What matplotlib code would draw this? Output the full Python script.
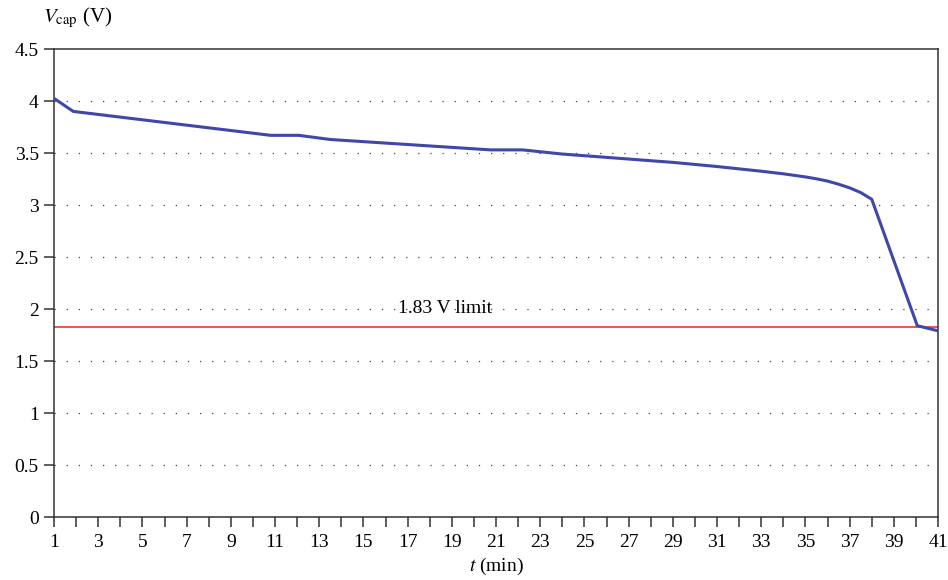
import matplotlib
matplotlib.use("Agg")
import matplotlib.pyplot as plt

plt.rcParams['font.family'] = ['Liberation Serif', 'DejaVu Serif']
plt.rcParams['mathtext.fontset'] = 'stix'

# capacitor voltage during discharge
t_min = [1, 1.87, 10.8, 12.07, 13.5, 20.75, 22.2, 24, 29, 31, 33, 34, 35, 35.5,
         36, 36.5, 37, 37.5, 38, 40.06, 41]
v_cap = [4.025, 3.90, 3.67, 3.67, 3.63, 3.53, 3.53, 3.49, 3.41, 3.37, 3.325, 3.30,
         3.27, 3.252, 3.23, 3.20, 3.165, 3.12, 3.055, 1.84, 1.79]

v_limit = 1.83
y_ticks = [0, 0.5, 1, 1.5, 2, 2.5, 3, 3.5, 4, 4.5]
x_ticks = list(range(1, 42))

fig = plt.figure(figsize=(9.48, 5.80), dpi=100)
ax = fig.add_axes([0.057, 0.1086, 0.9325, 0.8069])

for y in y_ticks[1:-1]:
    ax.axhline(y, color='#444444', lw=0.9, linestyle=(0, (1, 8.7)), zorder=1)

ax.axhline(v_limit, color='#e53a2c', lw=1.2, zorder=2)
ax.plot(t_min, v_cap, color='#3f47a8', lw=2.2, zorder=3, solid_joinstyle='round')
ax.text(16.55, 1.96, f'{v_limit} V limit', fontsize=14, ha='left', va='baseline')

ax.set_xlim(1, 41)
ax.set_ylim(0, 4.5)
ax.set_yticks(y_ticks)
ax.set_yticklabels([f'{y:g}' for y in y_ticks])
ax.set_xticks(x_ticks)
ax.set_xticklabels([str(x) if x % 2 == 1 else '' for x in x_ticks])

for s in ax.spines.values():
    s.set_color('#333333')
    s.set_linewidth(1.1)
ax.tick_params(axis='both', direction='out', color='#333333', width=1.1,
               labelsize=14, labelcolor='black')
ax.tick_params(axis='x', length=7, pad=5)
ax.tick_params(axis='y', length=7, pad=4)

ax.set_xlabel(r'$t$ (min)', fontsize=14, labelpad=4)
fig.text(0.045, 0.962, r'$V_{\mathrm{cap}}$ (V)', fontsize=15, ha='left', va='baseline')

fig.savefig('out.png', dpi=100)
